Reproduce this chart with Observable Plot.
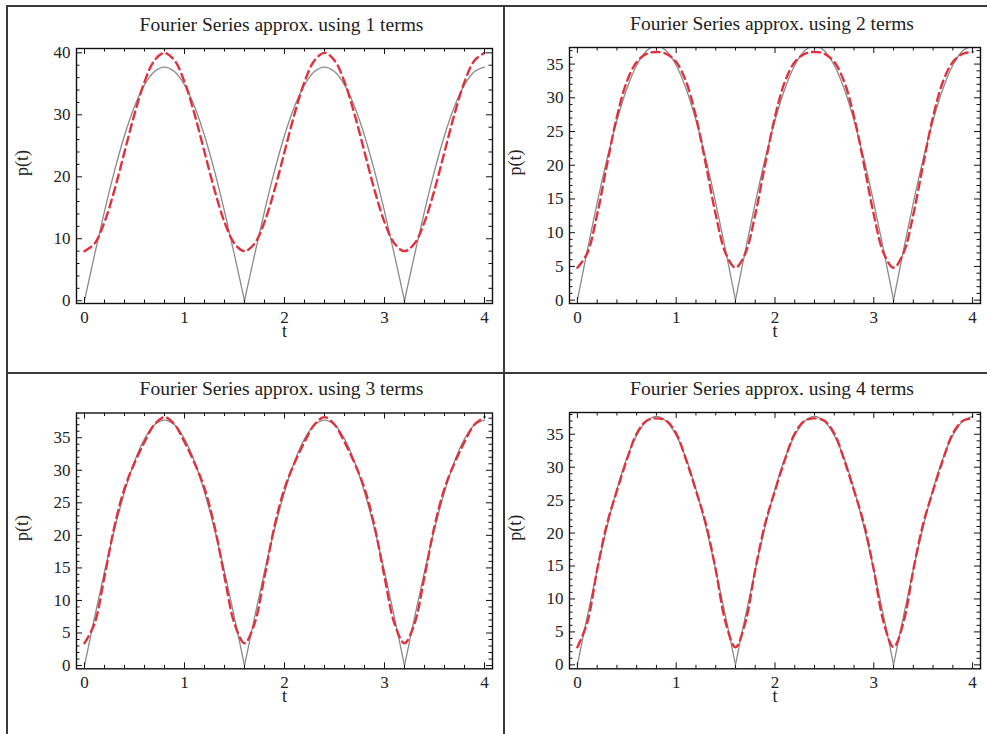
<!DOCTYPE html>
<html>
<head>
<meta charset="utf-8">
<script src="https://cdn.jsdelivr.net/npm/d3@7"></script>
<script src="https://cdn.jsdelivr.net/npm/@observablehq/plot@0.6"></script>
<style>
  html, body { margin: 0; padding: 0; background: #fff; }
  #page { position: relative; width: 987px; height: 734px; overflow: hidden; background: #fff; }
  .bline { position: absolute; background: #3a3a3a; z-index: 10; }
</style>
</head>
<body>
<div id="page"></div>
<script>
// ---- data ----
const tValues = [0.0,0.1,0.2,0.3,0.4,0.5,0.6,0.7,0.8,0.9,1.0,1.1,1.2,1.3,1.4,1.5,1.6,1.7,1.8,1.9,2.0,2.1,2.2,2.3,2.4,2.5,2.6,2.7,2.8,2.9,3.0,3.1,3.2,3.3,3.4,3.5,3.6,3.7,3.8,3.9,4.0];

const exactValues = [
  0, 7.36, 14.43, 20.94, 26.66, 31.35, 34.83, 36.98, 37.70, 36.98, 34.83, 31.35, 26.66, 20.94, 14.43, 7.36,
  0, 7.36, 14.43, 20.94, 26.66, 31.35, 34.83, 36.98, 37.70, 36.98, 34.83, 31.35, 26.66, 20.94, 14.43, 7.36,
  0, 7.36, 14.43, 20.94, 26.66, 31.35, 34.83, 36.98, 37.70];

const approx1 = [
  8.00, 9.22, 12.69, 17.88, 24.00, 30.12, 35.31, 38.78, 40.00, 38.78, 35.31, 30.12, 24.00, 17.88, 12.69, 9.22,
  8.00, 9.22, 12.69, 17.88, 24.00, 30.12, 35.31, 38.78, 40.00, 38.78, 35.31, 30.12, 24.00, 17.88, 12.69, 9.22,
  8.00, 9.22, 12.69, 17.88, 24.00, 30.12, 35.31, 38.78, 40.00];

const approx2 = [
  4.80, 6.96, 12.69, 20.14, 27.20, 32.39, 35.31, 36.52, 36.80, 36.52, 35.31, 32.39, 27.20, 20.14, 12.69, 6.96,
  4.80, 6.96, 12.69, 20.14, 27.20, 32.39, 35.31, 36.52, 36.80, 36.52, 35.31, 32.39, 27.20, 20.14, 12.69, 6.96,
  4.80, 6.96, 12.69, 20.14, 27.20, 32.39, 35.31, 36.52, 36.80];

const approx3 = [
  3.43, 6.43, 13.66, 21.41, 27.20, 31.12, 34.34, 37.04, 38.17, 37.04, 34.34, 31.12, 27.20, 21.41, 13.66, 6.43,
  3.43, 6.43, 13.66, 21.41, 27.20, 31.12, 34.34, 37.04, 38.17, 37.04, 34.34, 31.12, 27.20, 21.41, 13.66, 6.43,
  3.43, 6.43, 13.66, 21.41, 27.20, 31.12, 34.34, 37.04, 38.17];

const approx4 = [
  2.67, 6.43, 14.42, 21.41, 26.44, 31.12, 35.11, 37.04, 37.41, 37.04, 35.11, 31.12, 26.44, 21.41, 14.42, 6.43,
  2.67, 6.43, 14.42, 21.41, 26.44, 31.12, 35.11, 37.04, 37.41, 37.04, 35.11, 31.12, 26.44, 21.41, 14.42, 6.43,
  2.67, 6.43, 14.42, 21.41, 26.44, 31.12, 35.11, 37.04, 37.41];

const cuspTimes = [0, 1.6, 3.2, 4.0];   // arch boundaries of the exact curve

const titles = [
  "Fourier Series approx. using 1 terms",
  "Fourier Series approx. using 2 terms",
  "Fourier Series approx. using 3 terms",
  "Fourier Series approx. using 4 terms"
];

const xMajor = [0, 1, 2, 3, 4];
const xMinor = [0.2,0.4,0.6,0.8,1.2,1.4,1.6,1.8,2.2,2.4,2.6,2.8,3.2,3.4,3.6,3.8];
const yMajor10 = [0, 10, 20, 30, 40];
const yMinor10 = [2,4,6,8,12,14,16,18,22,24,26,28,32,34,36,38];
const yMajor5 = [0, 5, 10, 15, 20, 25, 30, 35];
const yMinor5 = [1,2,3,4,6,7,8,9,11,12,13,14,16,17,18,19,21,22,23,24,26,27,28,29,31,32,33,34,36,37,38];

const xLabel = "t";
const yLabel = "p(t)";

// ---- tables ----
const exactRows = [];
for (let a = 0; a < cuspTimes.length - 1; a++) {
  tValues.forEach((t, i) => {
    if (t >= cuspTimes[a] - 1e-9 && t <= cuspTimes[a + 1] + 1e-9) exactRows.push({t, p: exactValues[i], arch: a});
  });
}
const toRows = arr => tValues.map((t, i) => ({t, p: arr[i]}));

const panels = [
  {left: 7,   top: 6,   width: 497, height: 367, mL: 69, mR: 12, mT: 42, mB: 70, yDomain: [-0.45, 40.7],  yMajor: yMajor10, yMinor: yMinor10, approx: approx1},
  {left: 505, top: 6,   width: 482, height: 367, mL: 64, mR: 7,  mT: 41, mB: 70, yDomain: [-0.5, 37.46], yMajor: yMajor5,  yMinor: yMinor5,  approx: approx2},
  {left: 7,   top: 374, width: 497, height: 360, mL: 69, mR: 12, mT: 38.5, mB: 65.7, yDomain: [-0.5, 38.8], yMajor: yMajor5, yMinor: yMinor5, approx: approx3},
  {left: 505, top: 374, width: 482, height: 360, mL: 64, mR: 7,  mT: 38, mB: 65.7, yDomain: [-0.6, 38.3], yMajor: yMajor5,  yMinor: yMinor5,  approx: approx4}
];

const page = document.getElementById("page");
const ink = "#111";

panels.forEach((cfg, k) => {
  const fw = cfg.width - cfg.mL - cfg.mR;
  const fh = cfg.height - cfg.mT - cfg.mB;
  const yMinor = cfg.yMinor.filter(v => v < cfg.yDomain[1] && v > cfg.yDomain[0]);
  const svg = Plot.plot({
    width: cfg.width, height: cfg.height,
    marginLeft: cfg.mL, marginRight: cfg.mR, marginTop: cfg.mT, marginBottom: cfg.mB,
    x: {domain: [-0.08, 4.08]},
    y: {domain: cfg.yDomain},
    style: {fontFamily: "'Liberation Serif', 'Times New Roman', serif", fontSize: "17px", background: "transparent", color: "#222"},
    marks: [
      Plot.line(exactRows, {x: "t", y: "p", z: "arch", stroke: "#8a8a8a", strokeWidth: 1.3, curve: "catmull-rom", clip: true}),
      Plot.line(toRows(cfg.approx), {x: "t", y: "p", stroke: "#e2313d", strokeWidth: 2.4, strokeDasharray: "8,5", curve: "catmull-rom", clip: true}),
      // inward ticks, all four sides
      Plot.ruleX(xMajor, {stroke: ink, strokeWidth: 1, insetTop: fh - 6}),
      Plot.ruleX(xMinor, {stroke: ink, strokeWidth: 1, insetTop: fh - 3.5}),
      Plot.ruleX(xMajor, {stroke: ink, strokeWidth: 1, insetBottom: fh - 6}),
      Plot.ruleX(xMinor, {stroke: ink, strokeWidth: 1, insetBottom: fh - 3.5}),
      Plot.ruleY(cfg.yMajor, {stroke: ink, strokeWidth: 1, insetRight: fw - 6}),
      Plot.ruleY(yMinor, {stroke: ink, strokeWidth: 1, insetRight: fw - 3.5}),
      Plot.ruleY(cfg.yMajor, {stroke: ink, strokeWidth: 1, insetLeft: fw - 6}),
      Plot.ruleY(yMinor, {stroke: ink, strokeWidth: 1, insetLeft: fw - 3.5}),
      Plot.frame({stroke: ink, strokeWidth: 1.4}),
      Plot.axisX({ticks: xMajor, tickSize: 0, tickPadding: 7, tickFormat: d3.format("d"), label: null}),
      Plot.axisY({ticks: cfg.yMajor, tickSize: 0, tickPadding: 6, tickFormat: d3.format("d"), label: null}),
      Plot.text([yLabel], {text: d => d, frameAnchor: "left", dx: -54, rotate: -90, fontSize: 18, fill: "#222"}),
      Plot.text([xLabel], {text: d => d, frameAnchor: "bottom", dy: 33, fontSize: 18, fill: "#222"}),
      Plot.text([titles[k]], {text: d => d, frameAnchor: "top", dy: -18, dx: -3, lineAnchor: "bottom", fontSize: 19.5, fill: "#222"})
    ]
  });
  svg.style.position = "absolute";
  svg.style.left = cfg.left + "px";
  svg.style.top = cfg.top + "px";
  svg.style.maxWidth = "none";
  page.appendChild(svg);
});

// grid border lines
[
  {left: 6, top: 5, width: 981, height: 2},
  {left: 6, top: 5, width: 2, height: 729},
  {left: 503, top: 5, width: 2, height: 729},
  {left: 6, top: 372, width: 981, height: 2}
].forEach(b => {
  const d = document.createElement("div");
  d.className = "bline";
  Object.assign(d.style, {left: b.left + "px", top: b.top + "px", width: b.width + "px", height: b.height + "px"});
  page.appendChild(d);
});
</script>
</body>
</html>
